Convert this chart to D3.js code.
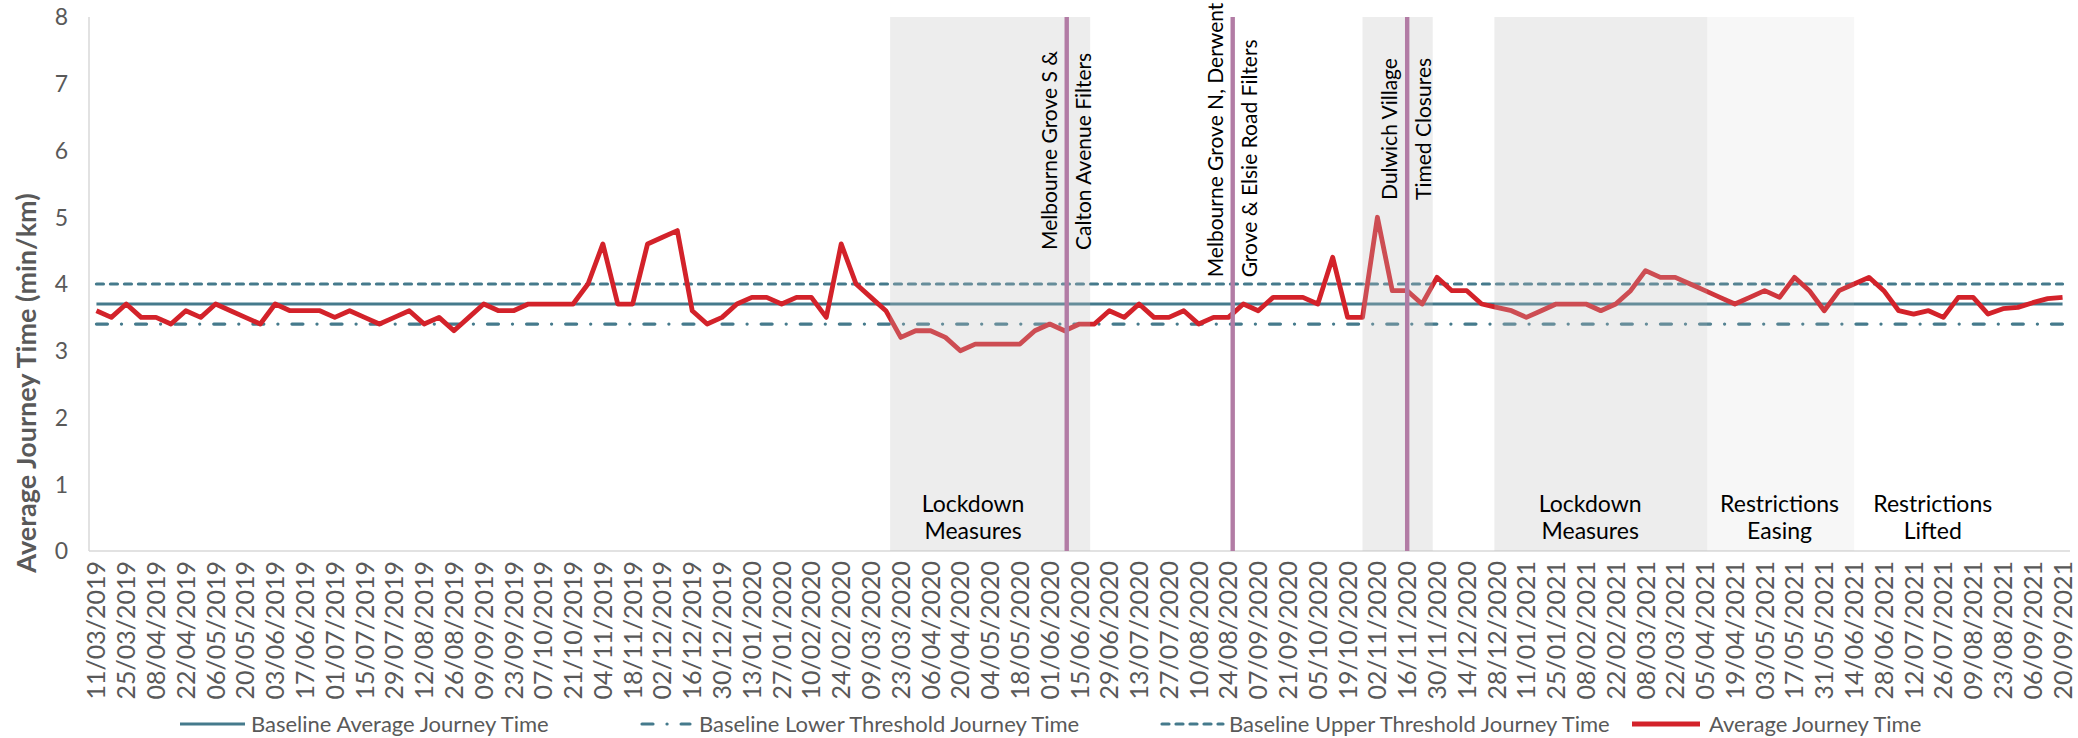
<!DOCTYPE html>
<html>
<head>
<meta charset="utf-8">
<script src="https://cdn.jsdelivr.net/npm/d3@7"></script>
<style>
  body { margin: 0; background: #fff; }
  text { font-family: Lato, "Open Sans", sans-serif; }
</style>
</head>
<body>
<svg id="chart"></svg>
<script>
// Weekly average journey time (min/km), one value per week from 11/03/2019
var firstWeek = "2019-03-11";
var avgJourney = [
    3.6, 3.5, 3.7, 3.5, 3.5, 3.4, 3.6, 3.5, 3.7, 3.6,
    3.5, 3.4, 3.7, 3.6, 3.6, 3.6, 3.5, 3.6, 3.5, 3.4,
    3.5, 3.6, 3.4, 3.5, 3.3, 3.5, 3.7, 3.6, 3.6, 3.7,
    3.7, 3.7, 3.7, 4.0, 4.6, 3.7, 3.7, 4.6, 4.7, 4.8,
    3.6, 3.4, 3.5, 3.7, 3.8, 3.8, 3.7, 3.8, 3.8, 3.5,
    4.6, 4.0, 3.8, 3.6, 3.2, 3.3, 3.3, 3.2, 3.0, 3.1,
    3.1, 3.1, 3.1, 3.3, 3.4, 3.3, 3.4, 3.4, 3.6, 3.5,
    3.7, 3.5, 3.5, 3.6, 3.4, 3.5, 3.5, 3.7, 3.6, 3.8,
    3.8, 3.8, 3.7, 4.4, 3.5, 3.5, 5.0, 3.9, 3.9, 3.7,
    4.1, 3.9, 3.9, 3.7, 3.65, 3.6, 3.5, 3.6, 3.7, 3.7,
    3.7, 3.6, 3.7, 3.9, 4.2, 4.1, 4.1, 4.0, 3.9, 3.8,
    3.7, 3.8, 3.9, 3.8, 4.1, 3.9, 3.6, 3.9, 4.0, 4.1,
    3.9, 3.6, 3.55, 3.6, 3.5, 3.8, 3.8, 3.55, 3.63, 3.65,
    3.72, 3.78, 3.8
];

// Baseline levels
var baselineAverage = 3.7;
var baselineLower = 3.4;
var baselineUpper = 4.0;

var yTicks = [0, 1, 2, 3, 4, 5, 6, 7, 8];

// Shaded periods and their labels
var periodStart = ["2020-03-18", "2020-10-26", "2020-12-27", "2021-04-06"];
var periodEnd   = ["2020-06-20", "2020-11-28", "2021-04-06", "2021-06-14"];
var periodTone  = ["dark", "dark", "dark", "light"];

var periodLabelDate = ["2020-04-26", "2021-02-10", "2021-05-10", "2021-07-21"];
var periodLabelText = [["Lockdown", "Measures"], ["Lockdown", "Measures"],
                       ["Restrictions", "Easing"], ["Restrictions", "Lifted"]];

// Scheme go-live dates
var eventDate = ["2020-06-09", "2020-08-26", "2020-11-16"];
var eventLeftText = ["Melbourne Grove S &", "Melbourne Grove N, Derwent", "Dulwich Village"];
var eventRightText = ["Calton Avenue Filters", "Grove & Elsie Road Filters", "Timed Closures"];
var eventLabelBase = [4.51, 4.1, 5.26];

var legendNames = ["Baseline Average Journey Time", "Baseline Lower Threshold Journey Time",
                   "Baseline Upper Threshold Journey Time", "Average Journey Time"];

//==========================================================================
// Set up.

var W = 2078, H = 738;
var margin = { top: 17, right: 8, bottom: 187, left: 89 };
var width = W - margin.left - margin.right;
var height = H - margin.top - margin.bottom;

var teal = "#457a8c";
var red = "#d3222a";
var purple = "#b27ca5";
var grey = "#595959";

var parseDate = d3.timeParse("%Y-%m-%d");
var fmt = d3.timeFormat("%d/%m/%Y");
var start = parseDate(firstWeek);
var weeks = d3.range(avgJourney.length).map(function(i) {
    return d3.timeDay.offset(start, 7 * i);
});

var svg = d3.select("#chart")
    .attr("width", W)
    .attr("height", H)
;

var chart = svg.append("g")
    .attr("transform", "translate(" + margin.left + "," + margin.top + ")")
;

var x = d3.scaleBand()
    .domain(d3.range(weeks.length))
    .range([0, width])
    .padding(0)
;
var cx = function(i) { return x(i) + x.bandwidth() / 2; };

var xTime = d3.scaleTime()
    .domain([weeks[0], weeks[weeks.length - 1]])
    .range([cx(0), cx(weeks.length - 1)])
;

var y = d3.scaleLinear()
    .domain([0, 8])
    .range([height, 0])
;

//==========================================================================
// Axes.

chart.append("line")
    .attr("x1", 0).attr("x2", 0)
    .attr("y1", 0).attr("y2", height)
    .attr("stroke", "#d9d9d9").attr("stroke-width", 1.5);

chart.append("line")
    .attr("x1", 0).attr("x2", width)
    .attr("y1", height).attr("y2", height)
    .attr("stroke", "#d9d9d9").attr("stroke-width", 1.5);

chart.selectAll(".ytick")
    .data(yTicks)
    .enter()
    .append("text")
    .attr("class", "ytick")
    .attr("x", -21)
    .attr("y", function(d) { return y(d); })
    .attr("dy", "0.36em")
    .attr("text-anchor", "end")
    .attr("fill", grey)
    .style("font-size", "23px")
    .text(function(d) { return d; });

chart.selectAll(".xtick")
    .data(d3.range(0, weeks.length, 2))
    .enter()
    .append("text")
    .attr("class", "xtick")
    .attr("transform", function(i) {
        return "translate(" + cx(i) + "," + (height + 10) + ") rotate(-90)";
    })
    .attr("dy", "0.36em")
    .attr("text-anchor", "end")
    .attr("fill", grey)
    .style("font-size", "25px")
    .text(function(i) { return fmt(weeks[i]); });

svg.append("text")
    .attr("transform", "translate(26," + 383 + ") rotate(-90)")
    .attr("dy", "0.36em")
    .attr("text-anchor", "middle")
    .attr("fill", grey)
    .style("font-size", "27px")
    .style("font-weight", "bold")
    .text("Average Journey Time (min/km)");

//==========================================================================
// Lines.

var levelLine = function(v) {
    return d3.line()
        .x(function(d, i) { return cx(i); })
        .y(function() { return y(v); })(weeks);
};

chart.append("path")
    .attr("d", levelLine(baselineAverage))
    .attr("fill", "none").attr("stroke", teal).attr("stroke-width", 3);

chart.append("path")
    .attr("d", levelLine(baselineLower))
    .attr("fill", "none").attr("stroke", teal).attr("stroke-width", 3.2)
    .attr("stroke-linecap", "round")
    .attr("stroke-dasharray", "11 14 0.1 14");

chart.append("path")
    .attr("d", levelLine(baselineUpper))
    .attr("fill", "none").attr("stroke", teal).attr("stroke-width", 3.2)
    .attr("stroke-linecap", "round")
    .attr("stroke-dasharray", "7 7");

chart.append("path")
    .datum(avgJourney)
    .attr("d", d3.line()
        .x(function(d, i) { return cx(i); })
        .y(function(d) { return y(d); }))
    .attr("fill", "none")
    .attr("stroke", red)
    .attr("stroke-width", 4.8)
    .attr("stroke-linejoin", "round");

//==========================================================================
// Shaded periods (drawn over the lines, semi-transparent).

chart.selectAll(".period")
    .data(periodStart)
    .enter()
    .append("rect")
    .attr("class", "period")
    .attr("x", function(d) { return xTime(parseDate(d)); })
    .attr("width", function(d, i) {
        return xTime(parseDate(periodEnd[i])) - xTime(parseDate(d));
    })
    .attr("y", y(8))
    .attr("height", height - y(8))
    .attr("fill", "#bfbfbf")
    .attr("fill-opacity", function(d, i) { return periodTone[i] === "dark" ? 0.28 : 0.13; });

chart.selectAll(".plabel")
    .data(periodLabelDate)
    .enter()
    .append("text")
    .attr("class", "plabel")
    .attr("x", function(d) { return xTime(parseDate(d)); })
    .attr("y", y(0.58))
    .attr("text-anchor", "middle")
    .attr("fill", "#000")
    .style("font-size", "23px")
    .each(function(d, i) {
        var t = d3.select(this);
        periodLabelText[i].forEach(function(line, k) {
            t.append("tspan")
                .attr("x", xTime(parseDate(d)))
                .attr("dy", k === 0 ? 0 : 27)
                .text(line);
        });
    });

//==========================================================================
// Scheme lines and labels.

chart.selectAll(".event")
    .data(eventDate)
    .enter()
    .append("line")
    .attr("class", "event")
    .attr("x1", function(d) { return xTime(parseDate(d)); })
    .attr("x2", function(d) { return xTime(parseDate(d)); })
    .attr("y1", y(8))
    .attr("y2", height)
    .attr("stroke", purple)
    .attr("stroke-width", 4.4);

eventDate.forEach(function(d, i) {
    var ex = xTime(parseDate(d));
    var ey = y(eventLabelBase[i]);
    chart.append("text")
        .attr("transform", "translate(" + (ex - 10) + "," + ey + ") rotate(-90)")
        .attr("fill", "#000")
        .style("font-size", "21px")
        .text(eventLeftText[i]);
    chart.append("text")
        .attr("transform", "translate(" + (ex + 24) + "," + ey + ") rotate(-90)")
        .attr("fill", "#000")
        .style("font-size", "21px")
        .text(eventRightText[i]);
});

//==========================================================================
// Legend.

var legendStyles = [
    { color: teal, w: 3, dash: null, cap: "butt", x0: 180, x1: 245, tx: 251 },
    { color: teal, w: 3.2, dash: "11 14 0.1 14", cap: "round", x0: 642, x1: 690, tx: 699 },
    { color: teal, w: 3.2, dash: "7 7", cap: "round", x0: 1162, x1: 1223, tx: 1229 },
    { color: red, w: 4.8, dash: null, cap: "butt", x0: 1632, x1: 1700, tx: 1709 }
];
var legend = svg.append("g").attr("transform", "translate(0,724)");
legendNames.forEach(function(name, i) {
    var s = legendStyles[i];
    legend.append("line")
        .attr("x1", s.x0).attr("x2", s.x1)
        .attr("y1", 0).attr("y2", 0)
        .attr("stroke", s.color)
        .attr("stroke-width", s.w)
        .attr("stroke-linecap", s.cap)
        .attr("stroke-dasharray", s.dash);
    legend.append("text")
        .attr("x", s.tx)
        .attr("dy", "0.36em")
        .attr("fill", grey)
        .style("font-size", "22px")
        .text(name);
});
</script>
</body>
</html>
